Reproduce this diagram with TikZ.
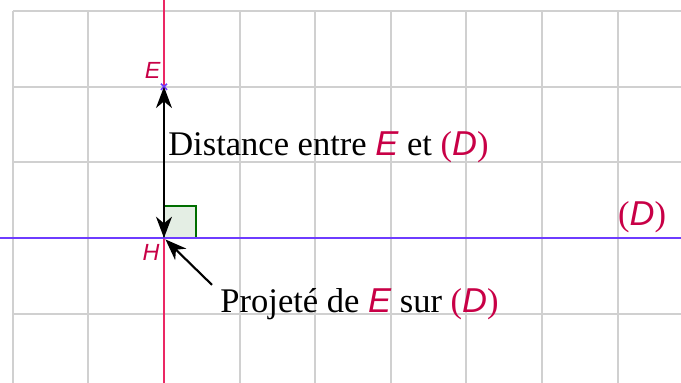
\documentclass[tikz,border=0pt]{standalone}
\usepackage{fontspec}
\setmainfont{Liberation Serif}
\newfontfamily\geosans{Liberation Sans}
\usetikzlibrary{arrows.meta,calc}
\definecolor{gridgray}{RGB}{208,208,208}
\definecolor{redline}{RGB}{235,40,100}
\definecolor{labred}{RGB}{200,0,70}
\definecolor{blueline}{RGB}{110,60,255}
\definecolor{sqfill}{RGB}{228,238,228}
\definecolor{sqdraw}{RGB}{0,110,0}
\newcommand{\gE}{\textcolor{labred}{\geosans\itshape E}}
\newcommand{\gD}{\textcolor{labred}{(\geosans\itshape D\/\rmfamily\upshape)}}
\begin{document}
\begin{tikzpicture}[x=1cm,y=1cm,
  gridline/.style={draw=gridgray,line width=0.8pt},
  arr/.style={line width=0.8pt,-{Stealth[length=8pt,width=6pt,inset=2.5pt]}},
  biarr/.style={line width=0.8pt,{Stealth[length=8pt,width=6pt,inset=2.5pt]}-{Stealth[length=8pt,width=6pt,inset=2.5pt]}},
  bigtext/.style={font=\fontsize{13}{15}\selectfont,inner sep=0pt},
  smalllab/.style={font=\fontsize{8.8}{10}\selectfont\geosans\itshape,text=labred,inner sep=0pt}]
\useasboundingbox (-2.169,-1.918) rectangle (6.839,3.148);
% grid
\foreach \x in {-2,...,6} \draw[gridline] (\x,3) -- (\x,-1.95);
\foreach \y in {-1,...,3} \draw[gridline] (-2,\y) -- (6.9,\y);
% lines
\draw[draw=redline,line width=0.85pt] (0,3.2) -- (0,-1.95);
% right angle
\draw[draw=sqdraw,fill=sqfill,line width=0.8pt] (0,0) rectangle (0.42,0.42);
\draw[draw=blueline,line width=0.85pt] (-2.2,0) -- (6.9,0);
% points
\coordinate (E) at (0,2);
\coordinate (H) at (0,0);
\coordinate (T) at (0.635,-0.62);
\coordinate (Htip) at (0.02,-0.02);
\draw[blueline,line width=0.6pt] (-0.04,1.96) -- (0.04,2.04) (-0.04,2.04) -- (0.04,1.96);
\draw[biarr] (E) -- (H);
\draw[arr] (T) -- (Htip);
% labels
\node[smalllab] (lE) at (-0.15,2.22) {E};
\node[smalllab] (lH) at (-0.17,-0.185) {H};
\node[bigtext,anchor=base west] (dist) at (0.05,1.085) {Distance entre \gE{} et \gD};
\node[bigtext,anchor=base west] (proj) at (0.74,-0.99) {Projeté de \gE{} sur \gD};
\node[bigtext,anchor=base west] (Dlab) at (6.0,0.16) {\gD};
\end{tikzpicture}
\end{document}
